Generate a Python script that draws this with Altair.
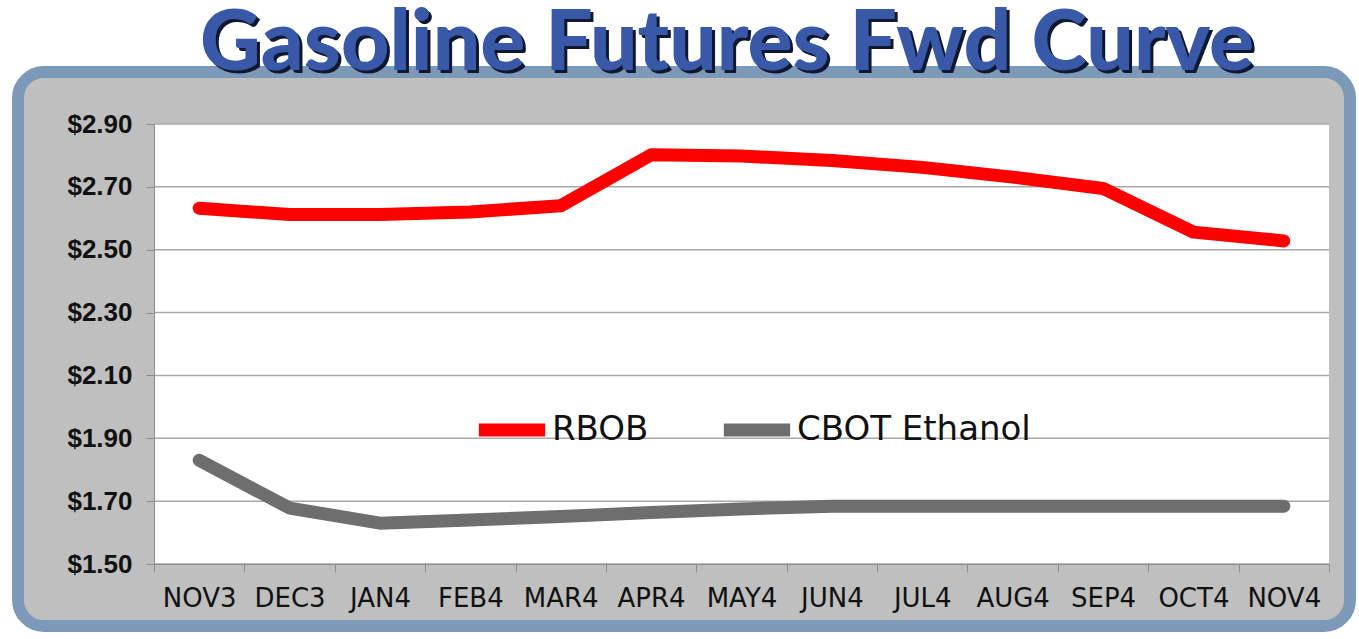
import altair as alt
import pandas as pd

months = ["NOV3", "DEC3", "JAN4", "FEB4", "MAR4", "APR4", "MAY4",
          "JUN4", "JUL4", "AUG4", "SEP4", "OCT4", "NOV4"]
rbob = [2.632, 2.612, 2.612, 2.620, 2.640, 2.802, 2.798, 2.784,
        2.762, 2.731, 2.695, 2.556, 2.528]
ethanol = [1.830, 1.678, 1.630, 1.640, 1.651, 1.664, 1.675, 1.684,
           1.684, 1.684, 1.684, 1.684, 1.684]
series_names = ["RBOB", "CBOT Ethanol"]
series_colors = ["#ff0000", "#6e6e6e"]
y_ticks = [1.50, 1.70, 1.90, 2.10, 2.30, 2.50, 2.70, 2.90]
title_text = "Gasoline Futures Fwd Curve"

W, H = 1175, 440

rows = []
for m, r, e in zip(months, rbob, ethanol):
    rows.append({"month": m, "series": series_names[0], "value": r})
    rows.append({"month": m, "series": series_names[1], "value": e})
df = pd.DataFrame(rows)

yscale = alt.Scale(domain=[1.5, 2.9], nice=False, zero=False)
yaxis = alt.Axis(title=None, values=y_ticks, format="$.2f", grid=False,
                 domainColor="#8c8c8c", tickColor="#8c8c8c", tickSize=8,
                 labelFont="Liberation Sans", labelFontWeight="bold",
                 labelFontSize=26, labelColor="#111111", labelPadding=14,
                 zindex=1)
one = alt.Data(values=[{"k": 1}])

frame = alt.Chart(one).mark_rect(
    fill="#bfbfbf", stroke="#7d99b9", strokeWidth=12, cornerRadius=26
).encode(x=alt.value(-136), x2=alt.value(1196), y=alt.value(-52), y2=alt.value(502))

plotbg = alt.Chart(one).mark_rect(fill="white").encode(
    x=alt.value(0), x2=alt.value(W), y=alt.value(0), y2=alt.value(H))

grid = alt.Chart(pd.DataFrame({"value": y_ticks})).mark_rule(
    color="#a8a8a8", strokeWidth=1.5
).encode(y=alt.Y("value:Q", scale=yscale, axis=yaxis))

lines = alt.Chart(df).mark_line(strokeWidth=13, strokeCap="round", strokeJoin="round").encode(
    x=alt.X("month:N", sort=months, bandPosition=0.5,
            scale=alt.Scale(type="band", paddingInner=0, paddingOuter=0),
            axis=alt.Axis(title=None, labelAngle=0, tickBand="extent", grid=False,
                          domainColor="#8c8c8c", tickColor="#8c8c8c", tickSize=8,
                          labelFont="DejaVu Sans", labelFontSize=26, labelColor="#111111",
                          labelPadding=13, zindex=1)),
    y=alt.Y("value:Q", scale=yscale, axis=yaxis),
    color=alt.Color("series:N",
                    scale=alt.Scale(domain=series_names, range=series_colors),
                    legend=alt.Legend(title=None, orient="none", legendX=311, legendY=266,
                                      direction="horizontal", symbolType="stroke",
                                      symbolSize=4400, symbolStrokeWidth=13,
                                      labelFont="DejaVu Sans", labelFontSize=34,
                                      labelColor="#111111", labelOffset=0,
                                      labelLimit=500, columnPadding=48, symbolOffset=7)),
)

shadow = alt.Chart(one).mark_text(
    text=title_text, font="Lato", fontWeight=900, fontSize=84, color="#101830",
    align="center", baseline="alphabetic"
).encode(x=alt.value(576), y=alt.value(-51))

title = alt.Chart(one).mark_text(
    text=title_text, font="Lato", fontWeight=900, fontSize=84, color="#3a58a8",
    align="center", baseline="alphabetic"
).encode(x=alt.value(573), y=alt.value(-54))

chart = alt.layer(frame, plotbg, grid, lines, shadow, title).properties(
    width=W, height=H,
    padding={"left": 154, "top": 124, "right": 30, "bottom": 75},
    autosize=alt.AutoSizeParams(type="none"),
    background="white",
).configure_view(stroke=None)

chart.save("out.html", embed_options={"renderer": "svg", "actions": False})
